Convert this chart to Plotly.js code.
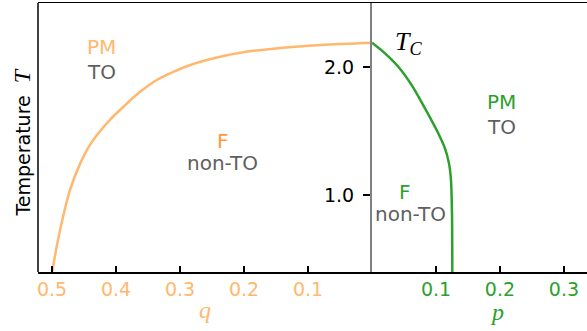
<!DOCTYPE html>
<html>
<head>
<meta charset="utf-8">
<script src="https://cdn.plot.ly/plotly-3.0.1.min.js"></script>
<style>
  html, body { margin: 0; padding: 0; background: #fff; }
  #chart { width: 587px; height: 331px; }
</style>
</head>
<body>
<div id="chart"></div>
<script>
// left branch: boundary in the (q, T) plane
let qValues = [0.5, 0.4875, 0.472, 0.456, 0.441, 0.4145, 0.3886, 0.3625, 0.3364, 0.3105, 0.284, 0.258, 0.206, 0.144, 0.081, 0.0];
let qTemps  = [0.40, 0.728, 1.040, 1.248, 1.391, 1.561, 1.690, 1.807, 1.899, 1.963, 2.016, 2.055, 2.112, 2.148, 2.172, 2.19];

// right branch: boundary in the (p, T) plane
let pValues = [0.0, 0.0203, 0.0411, 0.062, 0.0828, 0.101, 0.114, 0.1203, 0.1234, 0.125, 0.1255];
let pTemps  = [2.19, 2.107, 2.002, 1.859, 1.678, 1.508, 1.365, 1.248, 1.118, 0.858, 0.40];

let qTicks = [0.5, 0.4, 0.3, 0.2, 0.1];
let pTicks = [0.1, 0.2, 0.3];
let tempTicks = [1.0, 2.0];

let qMax = 0.522;
let pMax = 0.336;
let tempRange = [0.4, 2.5];

let orangeLight = '#ffb86e';
let orangeDark = '#ff9a3c';
let green = '#2ca02c';
let gray = '#5f5f5f';
let sans = 'DejaVu Sans, sans-serif';
let serif = 'Liberation Serif, serif';

// split so both halves share one scale
let split = qMax / (qMax + pMax);

let data = [
  {
    x: qValues, y: qTemps, xaxis: 'x', yaxis: 'y',
    type: 'scatter', mode: 'lines',
    line: {color: orangeLight, width: 2.5, shape: 'spline', smoothing: 1},
    hoverinfo: 'skip'
  },
  {
    x: pValues, y: pTemps, xaxis: 'x2', yaxis: 'y',
    type: 'scatter', mode: 'lines',
    line: {color: green, width: 2.5, shape: 'spline', smoothing: 0.8},
    hoverinfo: 'skip'
  }
];

function label(text, xref, x, y, color) {
  return {
    text: text, xref: xref, yref: 'y', x: x, y: y,
    showarrow: false, xanchor: 'center', yanchor: 'middle',
    font: {family: sans, size: 20, color: color}
  };
}

let annotations = [
  label('PM', 'x', 0.422, 2.158, orangeLight),
  label('TO', 'x', 0.422, 1.963, gray),
  label('F', 'x', 0.233, 1.422, orangeDark),
  label('non-TO', 'x', 0.233, 1.251, gray),
  label('PM', 'x2', 0.2027, 1.729, green),
  label('TO', 'x2', 0.2027, 1.534, gray),
  label('F', 'x2', 0.0516, 1.022, green),
  label('non-TO', 'x2', 0.0594, 0.852, gray),
  {
    text: '<i>T</i><sub><i>C</i></sub>', xref: 'x2', yref: 'y', x: 0.057, y: 2.19,
    showarrow: false, xanchor: 'center', yanchor: 'middle',
    font: {family: serif, size: 26, color: '#000'}
  },
  {
    text: '<i>p</i>', xref: 'x2', yref: 'paper', x: 0.195, y: 0, yshift: -40,
    showarrow: false, xanchor: 'center', yanchor: 'middle',
    font: {family: serif, size: 24, color: green}
  },
  {
    text: 'Temperature&nbsp; <span style="font-family:Liberation Serif;font-style:italic;font-size:24px">T</span>',
    xref: 'paper', yref: 'paper', x: 0, y: 0.481, xshift: -16,
    textangle: -90, showarrow: false, xanchor: 'center', yanchor: 'middle',
    font: {family: sans, size: 19, color: '#000'}
  }
];

let layout = {
  width: 587,
  height: 331,
  margin: {l: 38, r: 0, t: 3, b: 59},
  paper_bgcolor: '#fff',
  plot_bgcolor: '#fff',
  showlegend: false,
  font: {family: sans, size: 19, color: '#000'},
  xaxis: {
    domain: [0, split],
    range: [qMax, 0],
    anchor: 'y',
    tickvals: qTicks,
    ticktext: qTicks.map(v => v.toFixed(1)),
    tickfont: {family: sans, size: 19, color: orangeLight},
    ticks: 'inside', ticklen: 6, tickwidth: 1.5, tickcolor: '#000',
    showline: true, linecolor: '#000', linewidth: 1.5, mirror: true,
    showgrid: false, zeroline: false,
    title: {text: '<i>q</i>', font: {family: serif, size: 24, color: orangeLight}, standoff: 2}
  },
  xaxis2: {
    domain: [split, 1],
    range: [0, pMax],
    anchor: 'y',
    tickvals: pTicks,
    ticktext: pTicks.map(v => v.toFixed(1)),
    tickfont: {family: sans, size: 19, color: green},
    ticks: 'inside', ticklen: 6, tickwidth: 1.5, tickcolor: '#000',
    showline: true, linecolor: '#000', linewidth: 1.5, mirror: true,
    showgrid: false, zeroline: false
  },
  yaxis: {
    domain: [0, 1],
    range: tempRange,
    anchor: 'x2',
    side: 'left',
    tickvals: tempTicks,
    ticktext: tempTicks.map(v => v.toFixed(1)),
    tickfont: {family: sans, size: 19, color: '#000'},
    ticks: 'outside', ticklen: 7, tickwidth: 1.5, tickcolor: '#000',
    ticklabelstandoff: 5,
    showline: true, linecolor: '#808080', linewidth: 2,
    showgrid: false, zeroline: false
  },
  shapes: [{
    type: 'line', xref: 'paper', yref: 'paper',
    x0: 0, x1: 0, y0: 0, y1: 1,
    line: {color: '#000', width: 1.5}
  }],
  annotations: annotations
};

Plotly.newPlot('chart', data, layout, {displayModeBar: false, staticPlot: true});
</script>
</body>
</html>
